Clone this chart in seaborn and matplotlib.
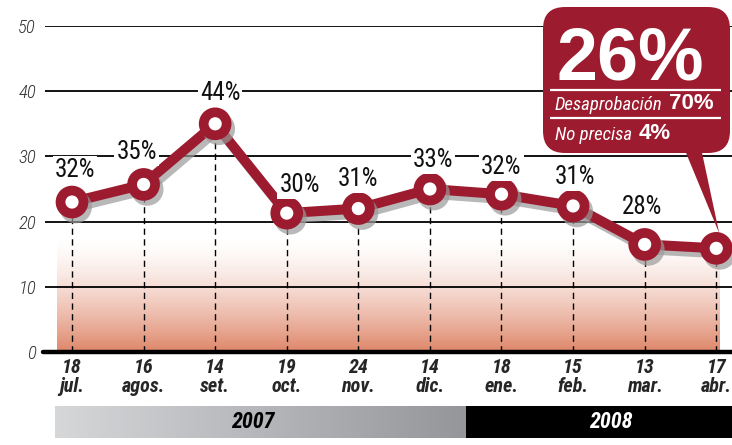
import matplotlib
matplotlib.use("Agg")
import matplotlib.pyplot as plt
import matplotlib.patheffects as pe
import matplotlib.transforms as mtrans
from matplotlib.patches import FancyBboxPatch, Polygon, Rectangle
from matplotlib.colors import LinearSegmentedColormap
import numpy as np
import pandas as pd
import seaborn as sns

# ---------------- data ----------------
days = ["18", "16", "14", "19", "24", "14", "18", "15", "13", "17"]
months = ["jul.", "agos.", "set.", "oct.", "nov.", "dic.", "ene.", "feb.", "mar.", "abr."]
plotted = [23.0, 25.7, 35.0, 21.3, 22.0, 25.0, 24.2, 22.4, 16.5, 15.9]
point_labels = ["32%", "35%", "44%", "30%", "31%", "33%", "32%", "31%", "28%"]
years = ["2007", "2008"]
points_per_year = [6, 4]
yticks = [0, 10, 20, 30, 40, 50]
callout_main = "26%"
callout_rows = [("Desaprobación", "70%"), ("No precisa", "4%")]

# ---------------- style ----------------
RED = "#9c1b2f"
W, H, DPI = 732, 445, 100
sns.set_style("white")
plt.rcParams["font.family"] = ["Roboto Condensed", "DejaVu Sans"]

fig = plt.figure(figsize=(W / DPI, H / DPI), dpi=DPI)
fig.patch.set_facecolor("white")
px = mtrans.Affine2D().scale(1, -1).translate(0, H)  # pixel coords, origin top-left


def fbox(x0, y0, x1, y1):
    return [x0 / W, 1 - y1 / H, (x1 - x0) / W, (y1 - y0) / H]


ax = fig.add_axes(fbox(45, 26, 732, 352))
xs = np.arange(len(plotted))
XL = (-0.377, 9.22)
ax.set_xlim(*XL)
ax.set_ylim(0, 50)
for s in ax.spines.values():
    s.set_visible(False)

# gradient fill at bottom
grad = np.linspace(0, 1, 256)[:, None] ** 1.5
cmap = LinearSegmentedColormap.from_list("peach", ["#ffffff", "#df8669"])
ax.imshow(grad, extent=[-0.21, 9.05, 0, 17.5], origin="upper", cmap=cmap,
          aspect="auto", zorder=0.5, interpolation="bilinear")

# gridlines
for t in yticks[1:]:
    ax.axhline(t, color="black", lw=1.3, zorder=1)
ax.axhline(0, xmin=-0.003, color="black", lw=3.2, zorder=1.2, clip_on=False)

# dashed drop lines
ax.vlines(xs, 0, plotted, colors="black", lw=1.0, linestyles=(0, (4.5, 3.2)), zorder=1.5)

# main line with shadow
df = pd.DataFrame({"x": xs, "y": plotted})
sns.lineplot(data=df, x="x", y="y", ax=ax, color=RED, lw=7.2, sort=False,
             marker="o", markersize=16.5, markerfacecolor="white",
             markeredgecolor=RED, markeredgewidth=7.0, zorder=3,
             path_effects=[pe.SimpleLineShadow(offset=(2.6, -3.6), shadow_color="#9a9a9a", alpha=0.7),
                           pe.Normal()])

# value labels
lab_dx = [3, -7, 5, 13, 0, 3, 0, 2, -3]
lab_dy = [32, 32, 31, 28, 30, 29, 27, 29, 37]
for i, lab in enumerate(point_labels):
    ax.annotate(lab, (xs[i], plotted[i]), xytext=(lab_dx[i] * 0.72, lab_dy[i] * 0.72),
                textcoords="offset points", ha="center", va="center", fontsize=18,
                color="#111111", zorder=4,
                bbox=dict(facecolor="white", edgecolor="none", pad=1.5))

# ticks
ax.set_xticks(xs)
ax.set_xticklabels([f"{d}\n{m}" for d, m in zip(days, months)], fontsize=14.5,
                   fontweight=900, fontstyle="italic", linespacing=1.0)
ax.set_yticks(yticks)
ax.set_yticklabels([str(t) for t in yticks], fontsize=13.5, fontstyle="italic",
                   fontweight="light", color="#333333")
ax.tick_params(axis="x", length=0, pad=4.5)
ax.tick_params(axis="y", length=0, pad=6.5)
ax.set_xlabel("")
ax.set_ylabel("")

# year bar
bax = fig.add_axes(fbox(45, 406, 732, 438))
bax.axis("off")
split = points_per_year[0] - 0.5
gcmap = LinearSegmentedColormap.from_list("grey", ["#d6d7d9", "#95969a"])
bax.imshow(np.linspace(0, 1, 256)[None, :], extent=[-0.237, split, 0, 1], cmap=gcmap,
           aspect="auto", interpolation="bilinear")
bax.add_patch(Rectangle((split, 0), XL[1] - split, 1, color="black", lw=0))
bax.set_xlim(*XL)
bax.set_ylim(0, 1)
bax.text(split - 2.97, 0.5, years[0], ha="center", va="center", fontsize=16,
         fontweight=900, fontstyle="italic", color="black")
bax.text(split + 2.03, 0.5, years[1], ha="center", va="center", fontsize=16,
         fontweight=900, fontstyle="italic", color="white")

# callout
fig.canvas.draw()
tip = ax.transData.transform((xs[-1], plotted[-1]))
tip_px = (tip[0] + 3, H - tip[1] - 15)
box = FancyBboxPatch((543, 7), 187, 146, boxstyle="round,pad=0,rounding_size=22",
                     transform=px, facecolor=RED, edgecolor="none", clip_on=False, zorder=5)
ax.add_patch(box)
ax.add_patch(Polygon([(684, 148), (701, 148), tip_px], closed=True, transform=px,
                     facecolor=RED, edgecolor="none", clip_on=False, zorder=2.9))
ax.text(630, 79, callout_main, transform=px, ha="center", va="baseline", fontsize=53,
        fontweight="bold", color="white", family=["Liberation Sans", "DejaVu Sans"],
        zorder=6, clip_on=False)
for yline in (90, 118):
    ax.plot([550, 721], [yline, yline], transform=px, color="white", lw=1.6,
            clip_on=False, zorder=6, solid_capstyle="butt")
for (lbl, val), base in zip(callout_rows, (110, 140)):
    t1 = ax.text(555, base, lbl, transform=px, ha="left", va="baseline", fontsize=13.5,
                 fontstyle="italic", color="white", zorder=6, clip_on=False)
    ax.annotate(val, xy=(1, 0), xycoords=t1, xytext=(4.5, 0), textcoords="offset points",
                ha="left", va="bottom", fontsize=16, fontweight="bold", color="white",
                family=["Liberation Sans", "DejaVu Sans"], zorder=6, annotation_clip=False)

fig.savefig("out.png", dpi=DPI, facecolor="white")
